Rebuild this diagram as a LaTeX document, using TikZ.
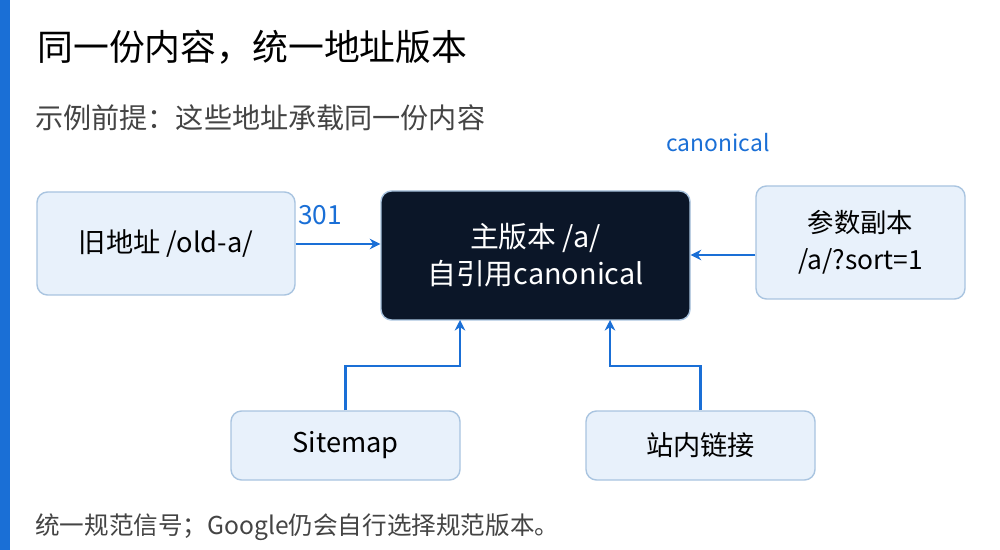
\documentclass[tikz,border=0pt]{standalone}
\usepackage{fontspec}
\setmainfont{Noto Sans CJK SC}
\usetikzlibrary{arrows.meta,positioning,calc}
\definecolor{accent}{HTML}{1A6FD6}
\definecolor{boxfill}{HTML}{E8F1FB}
\definecolor{boxline}{HTML}{A9C4E0}
\definecolor{darkfill}{HTML}{0B1628}
\definecolor{subgray}{HTML}{444444}
\tikzset{
	page/.style={x=0.02cm, y=-0.02cm},
	light/.style={draw=boxline, fill=boxfill, rounded corners=6pt, line width=0.8pt, align=center, font=\fontsize{15.5}{20}\selectfont},
	dark/.style={draw=boxline, fill=darkfill, text=white, rounded corners=6pt, line width=0.8pt, align=center, font=\fontsize{16.4}{21}\selectfont},
	link/.style={draw=accent, line width=1.6pt, -{Stealth[length=6pt,width=6pt]}}
}
\begin{document}
\begin{tikzpicture}[page]
	\useasboundingbox (0, 0) rectangle (1000, 550);
	\fill[white] (0, 0) rectangle (1000, 550);
	\fill[accent] (0, 0) rectangle (10, 550);

	\node[anchor=west, inner sep=0pt, font=\fontsize{20.4}{24}\selectfont] (title) at (37, 47) {同一份内容，统一地址版本};
	\node[anchor=west, inner sep=0pt, text=subgray, font=\fontsize{16}{19}\selectfont] (premise) at (35, 118) {示例前提：这些地址承载同一份内容};
	\node[text=accent, font=\fontsize{13}{15}\selectfont] (canon) at (718, 143) {canonical};

	\node[light, minimum width=258*0.02cm, minimum height=103*0.02cm] (old) at (166, 243.5) {旧地址 /old-a/};
	\node[dark, minimum width=309*0.02cm, minimum height=129*0.02cm] (main) at (535.5, 255.5) {主版本 /a/\\自引用canonical};
	\node[light, minimum width=209*0.02cm, minimum height=113*0.02cm, font=\fontsize{15}{21}\selectfont] (param) at (860.5, 242.5) {参数副本\\/a/?sort=1};
	\node[light, minimum width=229*0.02cm, minimum height=69*0.02cm] (sitemap) at (345.5, 445.5) {Sitemap};
	\node[light, minimum width=229*0.02cm, minimum height=69*0.02cm] (inner) at (700.5, 445.5) {站内链接};

	\draw[link] (old.east |- 0, 244) -- (main.west |- 0, 244);
	\node[text=accent, font=\fontsize{15}{17}\selectfont] (code) at (320, 215) {301};
	\draw[link] (param.west |- 0, 255) -- (main.east |- 0, 255);
	\draw[link] (sitemap.north) |- (460, 366) -- (460, 320);
	\draw[link] (inner.north) |- (610, 366) -- (610, 320);

	\node[anchor=west, inner sep=0pt, text=subgray, font=\fontsize{14}{17}\selectfont] (note) at (35, 527) {统一规范信号；Google仍会自行选择规范版本。};
\end{tikzpicture}
\end{document}
